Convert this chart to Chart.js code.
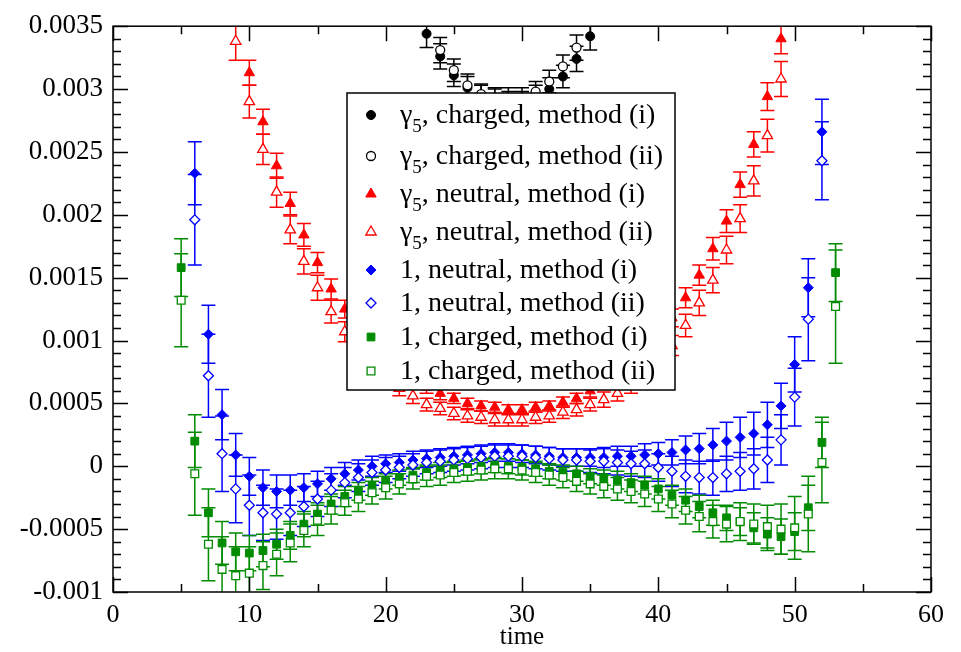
<!DOCTYPE html>
<html>
<head>
<meta charset="utf-8">
<script src="https://cdn.jsdelivr.net/npm/chart.js@4.4.1/dist/chart.umd.min.js"></script>
<style>
  html, body { margin: 0; background: #fff; }
  #c { display: block; }
</style>
</head>
<body>
<canvas id="c" width="961" height="652"></canvas>
<script>
// all values are in units of 0.001
const yTickLabels = ["-0.001", "-0.0005", "0", "0.0005", "0.001", "0.0015", "0.002", "0.0025", "0.003", "0.0035"];

const seriesLabels = [
  "γ5, charged, method (i)",
  "γ5, charged, method (ii)",
  "γ5, neutral, method (i)",
  "γ5, neutral, method (ii)",
  "1, neutral, method (i)",
  "1, neutral, method (ii)",
  "1, charged, method (i)",
  "1, charged, method (ii)",
];

// gamma5 charged
const timeBlackI = [23, 24, 25, 26, 27, 28, 29, 30, 31, 32, 33, 34, 35];
const blackI = [3.44, 3.26, 3.11, 3.01, 2.95, 2.92, 2.90, 2.90, 2.95, 3.00, 3.10, 3.24, 3.42];
const blackIErr = [0.11, 0.10, 0.09, 0.09, 0.08, 0.08, 0.08, 0.08, 0.08, 0.09, 0.09, 0.10, 0.11];
const timeBlackII = [24, 25, 26, 27, 28, 29, 30, 31, 32, 33, 34];
const blackII = [3.31, 3.15, 3.03, 2.96, 2.93, 2.93, 2.93, 2.98, 3.06, 3.18, 3.33];
const blackIIErr = [0.10, 0.09, 0.09, 0.08, 0.08, 0.08, 0.08, 0.08, 0.09, 0.09, 0.10];

// gamma5 neutral
const timeRedI = [10, 11, 12, 13, 14, 15, 16, 17, 18, 19, 20, 21, 22, 23, 24, 25, 26, 27, 28, 29,
  30, 31, 32, 33, 34, 35, 36, 37, 38, 39, 40, 41, 42, 43, 44, 45, 46, 47, 48, 49];
const redI = [3.13, 2.74, 2.39, 2.09, 1.84, 1.62, 1.41, 1.25, 1.10, 0.97, 0.86, 0.77, 0.69, 0.63, 0.58, 0.54, 0.50, 0.48, 0.47, 0.45,
  0.45, 0.47, 0.48, 0.51, 0.54, 0.60, 0.66, 0.73, 0.82, 0.92, 1.04, 1.18, 1.34, 1.52, 1.73, 1.95, 2.24, 2.56, 2.94, 3.40];
const redIErr = [0.10, 0.10, 0.10, 0.09, 0.09, 0.08, 0.08, 0.07, 0.07, 0.06, 0.06, 0.05, 0.05, 0.05, 0.05, 0.04, 0.04, 0.04, 0.04, 0.04,
  0.04, 0.04, 0.04, 0.04, 0.04, 0.05, 0.05, 0.05, 0.06, 0.06, 0.07, 0.07, 0.08, 0.08, 0.09, 0.09, 0.10, 0.10, 0.11, 0.12];
const timeRedII = [9, 10, 11, 12, 13, 14, 15, 16, 17, 18, 19, 20, 21, 22, 23, 24, 25, 26, 27, 28, 29,
  30, 31, 32, 33, 34, 35, 36, 37, 38, 39, 40, 41, 42, 43, 44, 45, 46, 47, 48, 49];
const redII = [3.38, 2.90, 2.52, 2.18, 1.88, 1.63, 1.42, 1.23, 1.07, 0.93, 0.81, 0.71, 0.62, 0.56, 0.49, 0.46, 0.42, 0.40, 0.39, 0.37, 0.37,
  0.37, 0.39, 0.40, 0.43, 0.45, 0.49, 0.53, 0.58, 0.65, 0.73, 0.83, 0.96, 1.12, 1.30, 1.48, 1.72, 1.97, 2.27, 2.63, 3.08];
const redIIErr = [0.15, 0.13, 0.12, 0.12, 0.11, 0.10, 0.10, 0.09, 0.08, 0.08, 0.07, 0.07, 0.06, 0.06, 0.05, 0.05, 0.05, 0.05, 0.05, 0.05, 0.05,
  0.05, 0.05, 0.05, 0.05, 0.05, 0.05, 0.06, 0.06, 0.07, 0.07, 0.08, 0.08, 0.09, 0.10, 0.10, 0.11, 0.11, 0.12, 0.13, 0.14];

// 1 neutral
const timeBlue = [6, 7, 8, 9, 10, 11, 12, 13, 14, 15, 16, 17, 18, 19, 20, 21, 22, 23, 24, 25, 26, 27, 28, 29,
  30, 31, 32, 33, 34, 35, 36, 37, 38, 39, 40, 41, 42, 43, 44, 45, 46, 47, 48, 49, 50, 51, 52];
const blueI = [2.33, 1.05, 0.41, 0.09, -0.08, -0.17, -0.20, -0.19, -0.17, -0.14, -0.10, -0.06, -0.03, 0.00, 0.02, 0.03, 0.05, 0.06, 0.07, 0.08, 0.09, 0.10, 0.11, 0.11,
  0.10, 0.09, 0.08, 0.07, 0.07, 0.07, 0.07, 0.08, 0.08, 0.09, 0.10, 0.11, 0.13, 0.14, 0.17, 0.20, 0.23, 0.26, 0.33, 0.48, 0.81, 1.42, 2.66];
const blueIErr = [0.25, 0.23, 0.20, 0.17, 0.15, 0.14, 0.13, 0.12, 0.11, 0.10, 0.09, 0.09, 0.08, 0.08, 0.07, 0.07, 0.07, 0.07, 0.07, 0.07, 0.07, 0.07, 0.07, 0.07,
  0.07, 0.07, 0.07, 0.07, 0.07, 0.07, 0.08, 0.08, 0.08, 0.09, 0.09, 0.10, 0.11, 0.12, 0.13, 0.15, 0.16, 0.17, 0.18, 0.18, 0.22, 0.23, 0.26];
const blueII = [1.96, 0.72, 0.10, -0.18, -0.31, -0.37, -0.38, -0.37, -0.32, -0.26, -0.19, -0.13, -0.09, -0.05, -0.03, -0.01, 0.01, 0.03, 0.04, 0.05, 0.06, 0.07, 0.08, 0.08,
  0.08, 0.07, 0.06, 0.05, 0.05, 0.04, 0.04, 0.03, 0.02, 0.02, -0.01, -0.04, -0.08, -0.09, -0.09, -0.06, -0.04, -0.02, 0.05, 0.21, 0.55, 1.17, 2.43];
const blueIIErr = [0.36, 0.33, 0.30, 0.27, 0.24, 0.22, 0.20, 0.18, 0.16, 0.14, 0.13, 0.12, 0.11, 0.10, 0.10, 0.09, 0.09, 0.09, 0.09, 0.09, 0.09, 0.09, 0.09, 0.09,
  0.09, 0.09, 0.09, 0.09, 0.09, 0.09, 0.10, 0.10, 0.10, 0.11, 0.11, 0.12, 0.13, 0.13, 0.14, 0.14, 0.15, 0.16, 0.18, 0.20, 0.23, 0.33, 0.31];

// 1 charged
const timeGreen = [5, 6, 7, 8, 9, 10, 11, 12, 13, 14, 15, 16, 17, 18, 19, 20, 21, 22, 23, 24, 25, 26, 27, 28, 29,
  30, 31, 32, 33, 34, 35, 36, 37, 38, 39, 40, 41, 42, 43, 44, 45, 46, 47, 48, 49, 50, 51, 52, 53];
const greenI = [1.58, 0.20, -0.37, -0.61, -0.68, -0.69, -0.67, -0.62, -0.55, -0.46, -0.38, -0.30, -0.24, -0.20, -0.16, -0.12, -0.09, -0.07, -0.05, -0.03, -0.02, -0.01, 0.00, 0.01, 0.00,
  -0.01, -0.02, -0.04, -0.05, -0.06, -0.08, -0.09, -0.11, -0.13, -0.15, -0.18, -0.23, -0.27, -0.32, -0.37, -0.41, -0.44, -0.49, -0.54, -0.56, -0.52, -0.33, 0.19, 1.54];
const greenIErr = [0.23, 0.21, 0.19, 0.17, 0.15, 0.14, 0.13, 0.12, 0.11, 0.10, 0.09, 0.08, 0.08, 0.07, 0.07, 0.06, 0.06, 0.06, 0.06, 0.06, 0.06, 0.06, 0.06, 0.06, 0.06,
  0.06, 0.06, 0.06, 0.06, 0.06, 0.06, 0.06, 0.07, 0.07, 0.07, 0.08, 0.08, 0.09, 0.09, 0.10, 0.10, 0.11, 0.12, 0.13, 0.14, 0.15, 0.18, 0.20, 0.23];
const greenII = [1.32, -0.06, -0.62, -0.82, -0.87, -0.85, -0.79, -0.70, -0.61, -0.51, -0.43, -0.35, -0.29, -0.26, -0.21, -0.17, -0.14, -0.10, -0.08, -0.07, -0.05, -0.04, -0.03, -0.02, -0.02,
  -0.03, -0.05, -0.07, -0.09, -0.12, -0.14, -0.16, -0.18, -0.20, -0.22, -0.26, -0.30, -0.35, -0.40, -0.44, -0.46, -0.44, -0.46, -0.48, -0.50, -0.49, -0.38, 0.03, 1.27];
const greenIIErr = [0.37, 0.33, 0.29, 0.26, 0.23, 0.21, 0.19, 0.17, 0.15, 0.13, 0.12, 0.11, 0.10, 0.10, 0.09, 0.09, 0.08, 0.08, 0.08, 0.08, 0.08, 0.08, 0.08, 0.08, 0.08,
  0.08, 0.08, 0.08, 0.08, 0.08, 0.08, 0.09, 0.09, 0.09, 0.10, 0.10, 0.11, 0.11, 0.12, 0.13, 0.14, 0.15, 0.16, 0.17, 0.20, 0.25, 0.30, 0.32, 0.45];

const SERIF = '"Liberation Serif", "Times New Roman", serif';
const BLACK = "#000000", RED = "#ff0000", BLUE = "#0000ff", GREEN = "#008b00";

function points(xs, ys) {
  return xs.map((x, i) => ({ x: x, y: ys[i] }));
}

function series(i, xs, ys, errs, color, style, radius, open) {
  return {
    label: seriesLabels[i],
    data: points(xs, ys),
    err: errs,
    showLine: false,
    pointStyle: style,
    pointRadius: radius,
    pointHoverRadius: radius,
    pointBorderWidth: open ? 1.3 : 1,
    pointBorderColor: color,
    pointBackgroundColor: open ? "#ffffff" : color,
    borderColor: color,
    order: 7 - i,
  };
}

const datasets = [
  series(0, timeBlackI, blackI, blackIErr, BLACK, "circle", 4.5, false),
  series(1, timeBlackII, blackII, blackIIErr, BLACK, "circle", 4.5, true),
  series(2, timeRedI, redI, redIErr, RED, "triangle", 6, false),
  series(3, timeRedII, redII, redIIErr, RED, "triangle", 6, true),
  series(4, timeBlue, blueI, blueIErr, BLUE, "rectRot", 5, false),
  series(5, timeBlue, blueII, blueIIErr, BLUE, "rectRot", 5, true),
  series(6, timeGreen, greenI, greenIErr, GREEN, "rect", 5.5, false),
  series(7, timeGreen, greenII, greenIIErr, GREEN, "rect", 5.5, true),
];

// vertical error bars with caps, drawn under the symbols
const errorBars = {
  id: "errorBars",
  beforeDatasetsDraw(chart) {
    const { ctx, chartArea, scales } = chart;
    ctx.save();
    ctx.beginPath();
    ctx.rect(chartArea.left, chartArea.top, chartArea.right - chartArea.left, chartArea.bottom - chartArea.top);
    ctx.clip();
    ctx.lineWidth = 1.5;
    chart.data.datasets.forEach((ds) => {
      ctx.strokeStyle = ds.borderColor;
      ds.data.forEach((p, i) => {
        const e = ds.err[i];
        const px = scales.x.getPixelForValue(p.x);
        const top = scales.y.getPixelForValue(p.y + e);
        const bot = scales.y.getPixelForValue(p.y - e);
        ctx.beginPath();
        ctx.moveTo(px, top);
        ctx.lineTo(px, bot);
        ctx.moveTo(px - 7, top);
        ctx.lineTo(px + 7, top);
        ctx.moveTo(px - 7, bot);
        ctx.lineTo(px + 7, bot);
        ctx.stroke();
      });
    });
    ctx.restore();
  },
};

// frame with inward major/minor ticks on all four sides
const frame = {
  id: "frame",
  afterDatasetsDraw(chart) {
    const { ctx, chartArea: a, scales } = chart;
    ctx.save();
    ctx.strokeStyle = "#000";
    ctx.lineWidth = 1.5;
    ctx.strokeRect(a.left, a.top, a.right - a.left, a.bottom - a.top);
    ctx.beginPath();
    for (let v = 0; v <= 60; v += 5) {
      const px = Math.round(scales.x.getPixelForValue(v)) + 0.5;
      const len = v % 10 === 0 ? 15 : 8;
      ctx.moveTo(px, a.bottom); ctx.lineTo(px, a.bottom - len);
      ctx.moveTo(px, a.top); ctx.lineTo(px, a.top + len);
    }
    for (let k = -10; k <= 35; k++) {
      const py = Math.round(scales.y.getPixelForValue(k / 10)) + 0.5;
      const len = k % 5 === 0 ? 15 : 8;
      ctx.moveTo(a.left, py); ctx.lineTo(a.left + len, py);
      ctx.moveTo(a.right, py); ctx.lineTo(a.right - len, py);
    }
    ctx.stroke();
    ctx.restore();
  },
};

function drawSymbol(ctx, ds, x, y) {
  ctx.fillStyle = ds.pointBackgroundColor;
  ctx.strokeStyle = ds.pointBorderColor;
  ctx.lineWidth = ds.pointBorderWidth;
  Chart.helpers.drawPoint(ctx, {
    pointStyle: ds.pointStyle,
    radius: ds.pointRadius,
    rotation: 0,
    borderWidth: ds.pointBorderWidth,
  }, x, y);
}

// boxed legend placed over the data, as in the original
const boxLegend = {
  id: "boxLegend",
  afterDraw(chart) {
    const ctx = chart.ctx;
    const box = { left: 347, top: 93, right: 675, bottom: 390 };
    const rowY = [115, 156, 194, 232, 270, 303, 337, 371];
    ctx.save();
    ctx.fillStyle = "#fff";
    ctx.fillRect(box.left, box.top, box.right - box.left, box.bottom - box.top);
    ctx.strokeStyle = "#000";
    ctx.lineWidth = 1.5;
    ctx.strokeRect(box.left, box.top, box.right - box.left, box.bottom - box.top);
    chart.data.datasets.forEach((ds, i) => {
      const y = rowY[i];
      drawSymbol(ctx, ds, 371, y);
      ctx.fillStyle = "#000";
      ctx.textBaseline = "alphabetic";
      ctx.textAlign = "left";
      let x = 400;
      const base = y + 8;
      let text = ds.label;
      if (text.startsWith("γ5")) {
        ctx.font = "28px " + SERIF;
        ctx.fillText("γ", x, base);
        x += ctx.measureText("γ").width;
        ctx.font = "19px " + SERIF;
        ctx.fillText("5", x, base + 9);
        x += ctx.measureText("5").width;
        text = text.slice(2);
      }
      ctx.font = "28px " + SERIF;
      ctx.fillText(text, x, base);
    });
    ctx.restore();
  },
};

new Chart(document.getElementById("c"), {
  type: "scatter",
  data: { datasets: datasets },
  plugins: [errorBars, frame, boxLegend],
  options: {
    responsive: false,
    animation: false,
    devicePixelRatio: 1,
    layout: { padding: { left: 0, top: 18, right: 30, bottom: 0 } },
    plugins: { legend: { display: false }, tooltip: { enabled: false } },
    scales: {
      x: {
        type: "linear",
        min: 0,
        max: 60,
        afterFit(scale) { scale.height = 60; },
        grid: { display: false, drawTicks: false },
        border: { display: false },
        ticks: { stepSize: 10, padding: 8, color: "#000", font: { family: SERIF, size: 26 }, maxRotation: 0 },
        title: { display: true, text: "time", color: "#000", font: { family: SERIF, size: 25 }, padding: { top: 0, bottom: 0 } },
      },
      y: {
        type: "linear",
        min: -1,
        max: 3.5,
        afterFit(scale) { scale.width = 113; },
        grid: { display: false, drawTicks: false },
        border: { display: false },
        ticks: {
          stepSize: 0.5,
          padding: 10,
          color: "#000",
          font: { family: SERIF, size: 27 },
          callback: (v, i) => yTickLabels[i],
        },
      },
    },
  },
});
</script>
</body>
</html>
